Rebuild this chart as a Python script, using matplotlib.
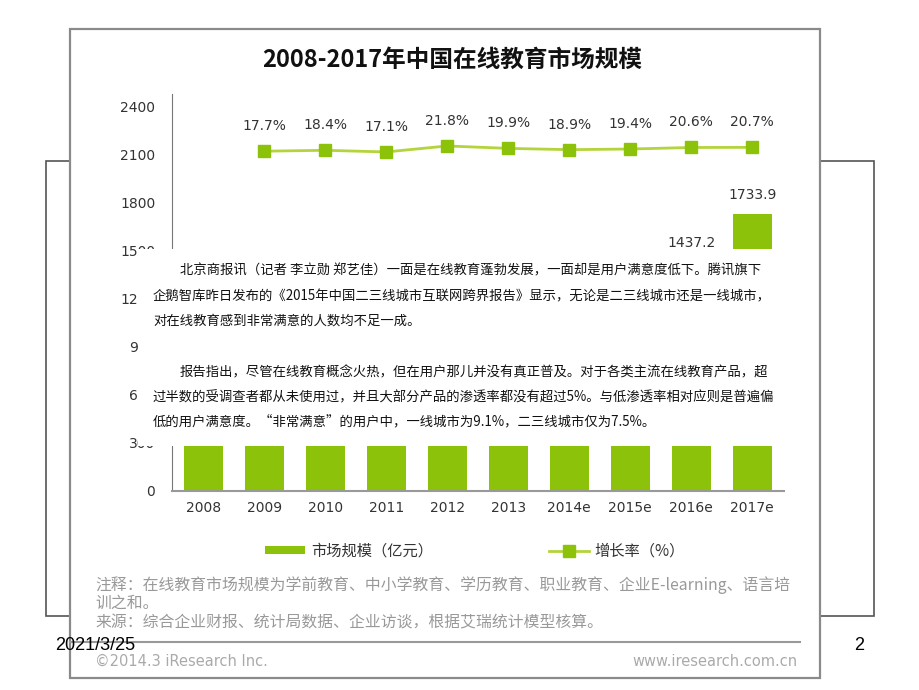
import matplotlib
matplotlib.use('Agg')
import matplotlib.pyplot as plt
from matplotlib.patches import Rectangle

plt.rcParams['font.family'] = ['DejaVu Sans', 'Noto Sans CJK SC']
CJK = ['Noto Sans CJK SC', 'DejaVu Sans']

# 数据
years = ['2008', '2009', '2010', '2011', '2012', '2013', '2014e', '2015e', '2016e', '2017e']
market = [352.2, 414.6, 490.9, 574.8, 700.1, 839.7, 998.1, 1191.7, 1437.2, 1733.9]
growth_years = ['2009', '2010', '2011', '2012', '2013', '2014e', '2015e', '2016e', '2017e']
growth = [17.7, 18.4, 17.1, 21.8, 19.9, 18.9, 19.4, 20.6, 20.7]
yticks = [0, 300, 600, 900, 1200, 1500, 1800, 2100, 2400]

green = '#8CC20A'
line_green = '#B4D43C'
dark = '#333333'
gray = '#999999'

fig = plt.figure(figsize=(9.2, 6.9), dpi=100)

# background layer in pixel coordinates
bg = fig.add_axes([0, 0, 1, 1], zorder=0)
bg.set_xlim(0, 920)
bg.set_ylim(690, 0)
bg.axis('off')
bg.add_patch(Rectangle((46, 161), 828, 455, fill=False, ec='#555555', lw=1.2))
bg.add_patch(Rectangle((70, 29), 750, 649, fc='white', ec='#8a8a8a', lw=1.6))
bg.text(452, 60, '2008-2017年中国在线教育市场规模', ha='center', va='center',
        fontsize=17, fontweight='bold', color='#111111', family=CJK)

# main chart
ax = fig.add_axes([172 / 920, 1 - 491 / 690, 612 / 920, 397 / 690], zorder=2)
ax.patch.set_alpha(0)
x = list(range(len(years)))
bars = ax.bar(x, market, width=0.64, color=green, label='市场规模（亿元）')
for xi, v in zip(x, market):
    ax.annotate(f'{v:.1f}', (xi, v), xytext=(0, 8), textcoords='offset points',
                ha='center', va='bottom', fontsize=10, color=dark)
ax.set_xlim(-0.51, 9.52)
ax.set_ylim(0, 2481)
ax.set_yticks(yticks)
ax.set_xticks(x)
ax.set_xticklabels(years)
ax.tick_params(length=0, labelsize=10, labelcolor=dark)
ax.tick_params(axis='y', pad=12)
ax.tick_params(axis='x', pad=7)
for s in ['top', 'right']:
    ax.spines[s].set_visible(False)
ax.spines['left'].set_color('#777777')
ax.spines['bottom'].set_color('#999999')
ax.spines['bottom'].set_linewidth(1.5)

ax2 = ax.twinx()
gx = [years.index(g) for g in growth_years]
line, = ax2.plot(gx, growth, color=line_green, lw=2, marker='s', markersize=8.5,
                 markerfacecolor=green, markeredgecolor=green, label='增长率（%）')
for xi, v in zip(gx, growth):
    ax2.annotate(f'{v}%', (xi, v), xytext=(0, 18), textcoords='offset points',
                 ha='center', va='center', fontsize=10, color=dark)
ax2.set_ylim(-248.5, 62.5)
ax2.axis('off')

# overlay layer: the news text box pasted over the chart
fg = fig.add_axes([0, 0, 1, 1], zorder=5)
fg.set_xlim(0, 920)
fg.set_ylim(690, 0)
fg.axis('off')
fg.patch.set_alpha(0)
fg.add_patch(Rectangle((138, 249), 642, 197, fc='white', ec='none'))

para = [
    (180, 270, '北京商报讯（记者 李立勋 郑艺佳）一面是在线教育蓬勃发展，一面却是用户满意度低下。腾讯旗下'),
    (153, 296, '企鹅智库昨日发布的《2015年中国二三线城市互联网跨界报告》显示，无论是二三线城市还是一线城市，'),
    (153, 321, '对在线教育感到非常满意的人数均不足一成。'),
    (180, 372, '报告指出，尽管在线教育概念火热，但在用户那儿并没有真正普及。对于各类主流在线教育产品，超'),
    (153, 397, '过半数的受调查者都从未使用过，并且大部分产品的渗透率都没有超过5%。与低渗透率相对应则是普遍偏'),
    (153, 421, '低的用户满意度。“非常满意”的用户中，一线城市为9.1%，二三线城市仅为7.5%。'),
]
for px, py, t in para:
    fg.text(px, py, t, ha='left', va='center', fontsize=9.6, color='#111111', family=CJK)

leg = fig.legend([bars, line], ['市场规模（亿元）', '增长率（%）'], loc='center left',
                 bbox_to_anchor=(265 / 920, 1 - 551 / 690), ncol=2, frameon=False,
                 handlelength=2.6, handleheight=0.5, handletextpad=0.4,
                 columnspacing=7.6, borderpad=0, borderaxespad=0,
                 prop={'family': CJK, 'size': 11})
for t in leg.get_texts():
    t.set_color(dark)

notes = [
    (95, 585, '注释：在线教育市场规模为学前教育、中小学教育、学历教育、职业教育、企业E-learning、语言培'),
    (95, 603, '训之和。'),
    (95, 623, '来源：综合企业财报、统计局数据、企业访谈，根据艾瑞统计模型核算。'),
]
for px, py, t in notes:
    fg.text(px, py, t, ha='left', va='center', fontsize=11.4, color=gray, family=CJK)

fg.plot([70, 800], [642, 642], color='#999999', lw=1.5)
fg.text(95, 661, '©2014.3 iResearch Inc.', ha='left', va='center', fontsize=10.5, color='#aaaaaa')
fg.text(798, 661, 'www.iresearch.com.cn', ha='right', va='center', fontsize=10.5, color='#aaaaaa')

fg.text(55, 645, '2021/3/25', ha='left', va='center', fontsize=13, color='black',
        family='Liberation Sans')
fg.text(859, 645, '2', ha='center', va='center', fontsize=13, color='black',
        family='Liberation Sans')

fig.savefig('out.png', dpi=100)
